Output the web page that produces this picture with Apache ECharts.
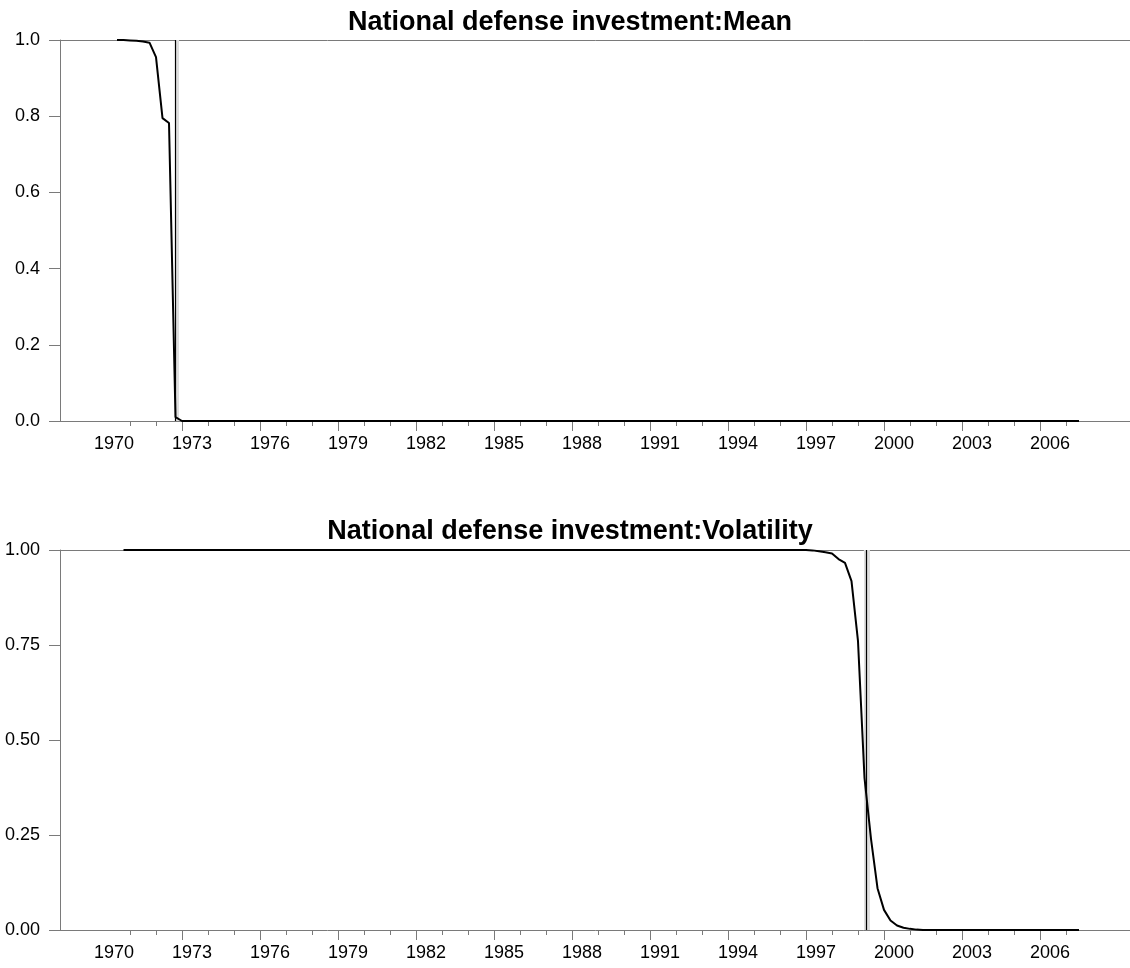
<!DOCTYPE html>
<html>
<head>
<meta charset="utf-8">
<script src="https://cdn.jsdelivr.net/npm/echarts@6/dist/echarts.min.js"></script>
<style>
  html, body { margin: 0; padding: 0; background: #fff; }
  #chart { width: 1130px; height: 968px; }
</style>
</head>
<body>
<div id="chart"></div>
<script>
// quarterly observations, first quarter of each series given as [year, quarter]
const MEAN_START = [1970, 3]
const VOL_START = [1970, 4]

// smoothed regime probability, mean equation (1970Q3 .. 2007Q3)
const meanProb = [
  1.000, 1.000, 0.999, 0.998, 0.996, 0.993, 0.955, 0.795, 0.782, 0.010,
  0, 0, 0, 0, 0, 0, 0, 0, 0, 0,
  0, 0, 0, 0, 0, 0, 0, 0, 0, 0,
  0, 0, 0, 0, 0, 0, 0, 0, 0, 0,
  0, 0, 0, 0, 0, 0, 0, 0, 0, 0,
  0, 0, 0, 0, 0, 0, 0, 0, 0, 0,
  0, 0, 0, 0, 0, 0, 0, 0, 0, 0,
  0, 0, 0, 0, 0, 0, 0, 0, 0, 0,
  0, 0, 0, 0, 0, 0, 0, 0, 0, 0,
  0, 0, 0, 0, 0, 0, 0, 0, 0, 0,
  0, 0, 0, 0, 0, 0, 0, 0, 0, 0,
  0, 0, 0, 0, 0, 0, 0, 0, 0, 0,
  0, 0, 0, 0, 0, 0, 0, 0, 0, 0,
  0, 0, 0, 0, 0, 0, 0, 0, 0, 0,
  0, 0, 0, 0, 0, 0, 0, 0, 0,
]

// smoothed regime probability, volatility equation (1970Q4 .. 2007Q3)
const volProb = [
  1, 1, 1, 1, 1, 1, 1, 1, 1, 1,
  1, 1, 1, 1, 1, 1, 1, 1, 1, 1,
  1, 1, 1, 1, 1, 1, 1, 1, 1, 1,
  1, 1, 1, 1, 1, 1, 1, 1, 1, 1,
  1, 1, 1, 1, 1, 1, 1, 1, 1, 1,
  1, 1, 1, 1, 1, 1, 1, 1, 1, 1,
  1, 1, 1, 1, 1, 1, 1, 1, 1, 1,
  1, 1, 1, 1, 1, 1, 1, 1, 1, 1,
  1, 1, 1, 1, 1, 1, 1, 1, 1, 1,
  1, 1, 1, 1, 1, 1, 1, 1, 1, 1,
  1, 1, 1, 1, 1, 1, 0.999, 0.997, 0.994, 0.991,
  0.976, 0.966, 0.918, 0.760, 0.400, 0.240, 0.110, 0.053, 0.025, 0.012,
  0.006, 0.003, 0.001, 0, 0, 0, 0, 0, 0, 0,
  0, 0, 0, 0, 0, 0, 0, 0, 0, 0,
  0, 0, 0, 0, 0, 0, 0, 0,
]

// break date markers: shaded band and line, in years
const meanBreak = { band: [1972.73, 1972.885], line: 1972.73 }
const volBreak = { band: [1999.23, 1999.46], line: 1999.33 }

const majorYears = [1973, 1976, 1979, 1982, 1985, 1988, 1991, 1994, 1997, 2000, 2003, 2006]
const minorYears = [1971, 1972, 1974, 1975, 1977, 1978, 1980, 1981, 1983, 1984, 1986, 1987,
  1989, 1990, 1992, 1993, 1995, 1996, 1998, 1999, 2001, 2002, 2004, 2005, 2007]
const labelYears = [1970, 1973, 1976, 1979, 1982, 1985, 1988, 1991, 1994, 1997, 2000, 2003, 2006]

const X_MIN = 1968.3077
const X_MAX = 2009.5
const LABEL_SHIFT = 0.385

const FONT = '"Liberation Sans", Arial, sans-serif'
const AXIS_GREY = '#7a7a7a'
const LABEL_SIZE = 18
const TITLE_SIZE = 27

function toPairs(start, values) {
  const t0 = start[0] + (start[1] - 1) / 4
  return values.map((v, i) => [t0 + i / 4, v])
}

function xAxes(gridIndex) {
  const base = {
    gridIndex,
    type: 'value',
    min: X_MIN,
    max: X_MAX,
    splitLine: { show: false },
  }
  return [
    {
      ...base,
      position: 'bottom',
      axisLine: { lineStyle: { color: AXIS_GREY, width: 1 } },
      axisTick: { show: true, inside: false, length: 10, customValues: majorYears, lineStyle: { color: AXIS_GREY } },
      axisLabel: {
        customValues: labelYears.map(y => y + LABEL_SHIFT),
        formatter: v => String(Math.floor(v)),
        color: '#000',
        fontSize: LABEL_SIZE,
        fontFamily: FONT,
        margin: 14,
      },
    },
    {
      ...base,
      position: 'bottom',
      axisLine: { show: false },
      axisTick: { show: true, inside: false, length: 5, customValues: minorYears, lineStyle: { color: AXIS_GREY } },
      axisLabel: { show: false },
    },
    {
      ...base,
      position: 'top',
      axisLine: { lineStyle: { color: AXIS_GREY, width: 1 } },
      axisTick: { show: false },
      axisLabel: { show: false },
    },
  ]
}

function yAxis(gridIndex, interval, digits) {
  return {
    gridIndex,
    type: 'value',
    min: 0,
    max: 1,
    interval,
    splitLine: { show: false },
    axisLine: { show: true, lineStyle: { color: AXIS_GREY, width: 1 } },
    axisTick: { show: true, inside: false, length: 11, lineStyle: { color: AXIS_GREY } },
    axisLabel: {
      formatter: v => v.toFixed(digits),
      color: '#000',
      fontSize: LABEL_SIZE,
      fontFamily: FONT,
      margin: 20,
    },
  }
}

function probSeries(xAxisIndex, yAxisIndex, data, brk) {
  return {
    type: 'line',
    xAxisIndex,
    yAxisIndex,
    data,
    showSymbol: false,
    clip: false,
    lineStyle: { color: '#000', width: 2 },
    z: 5,
    markArea: {
      silent: true,
      itemStyle: { color: '#dedede' },
      data: [[{ xAxis: brk.band[0] }, { xAxis: brk.band[1] }]],
    },
    markLine: {
      silent: true,
      symbol: 'none',
      label: { show: false },
      lineStyle: { color: '#000', width: 1.2, type: 'solid' },
      data: [{ xAxis: brk.line }],
    },
  }
}

const chart = echarts.init(document.getElementById('chart'))
chart.setOption({
  animation: false,
  backgroundColor: '#fff',
  title: [
    {
      text: 'National defense investment:Mean',
      left: 565, top: 4, textAlign: 'center',
      textStyle: { fontFamily: FONT, fontWeight: 'bold', fontSize: TITLE_SIZE, color: '#000' },
    },
    {
      text: 'National defense investment:Volatility',
      left: 565, top: 513, textAlign: 'center',
      textStyle: { fontFamily: FONT, fontWeight: 'bold', fontSize: TITLE_SIZE, color: '#000' },
    },
  ],
  grid: [
    { left: 60, top: 40, width: 1071, height: 381, outerBoundsMode: 'none', containLabel: false },
    { left: 60, top: 550, width: 1071, height: 380, outerBoundsMode: 'none', containLabel: false },
  ],
  xAxis: [...xAxes(0), ...xAxes(1)],
  yAxis: [yAxis(0, 0.2, 1), yAxis(1, 0.25, 2)],
  series: [
    probSeries(0, 0, toPairs(MEAN_START, meanProb), meanBreak),
    probSeries(3, 1, toPairs(VOL_START, volProb), volBreak),
  ],
})
</script>
</body>
</html>
